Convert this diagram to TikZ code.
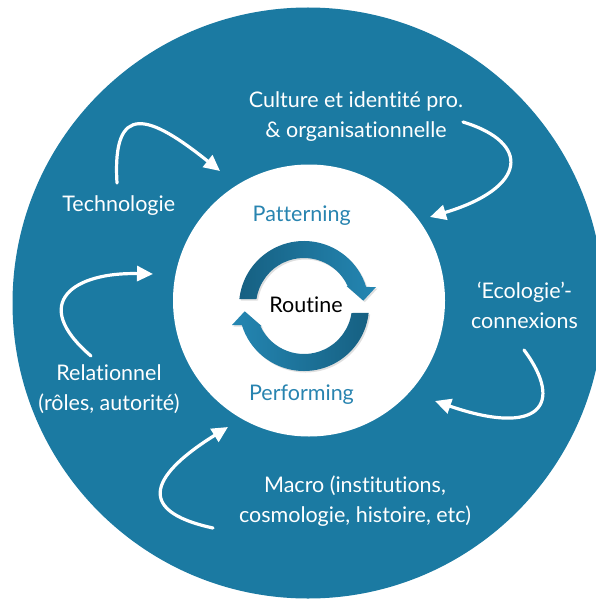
\documentclass[tikz,border=0pt]{standalone}
\usepackage{fontspec}
\setmainfont{Lato}[Ligatures={NoCommon,NoRare,NoContextual}]
\usetikzlibrary{arrows.meta,calc,shadows}
\definecolor{bigblue}{RGB}{27,122,162}
\definecolor{darkarc}{RGB}{22,96,130}
\definecolor{lightarc}{RGB}{36,134,178}
\definecolor{labelblue}{RGB}{40,132,176}
\begin{document}
\begin{tikzpicture}[x=1pt,y=1pt,
  lbl/.style={text=white, font=\fontsize{21.5}{29.5}\selectfont, align=center, inner sep=0pt, anchor=base},
  inlbl/.style={text=labelblue, font=\fontsize{21.5}{24}\selectfont, inner sep=0pt, anchor=base},
  curvy/.style={draw=white, line width=3.2pt, line cap=round, -{Triangle[length=16pt,width=15pt]}},
  cyc/.style={drop shadow={opacity=0.25, shadow xshift=1.5pt, shadow yshift=-1.5pt}}]
\useasboundingbox (0,0) rectangle (595,-599);
% discs
\fill[bigblue] (308,-303) circle[radius=295.5];
\fill[white] (309,-300.5) circle[radius=136];
% outer labels (anchor = baseline of last line)
\node[lbl] (culture) at (356,-137) {Culture et identité pro.\\\& organisationnelle};
\node[lbl] (techno) at (118.7,-211.7) {Technologie};
\node[lbl] (ecolo) at (524.5,-328) {‘Ecologie’-\\connexions};
\node[lbl] (relat) at (109,-410) {Relationnel\\(rôles, autorité)};
\node[lbl] (macro) at (355,-522) {Macro (institutions,\\cosmologie, histoire, etc)};
% inner labels
\node[inlbl] (pattern) at (301.7,-221) {Patterning};
\node[inlbl] (perform) at (301.5,-400) {Performing};
\node[inlbl, text=black] (routine) at (306,-312.7) {Routine};
% cycle arrows
\begin{scope}[shift={(304,-306)}]
\shade[cyc, left color=darkarc, right color=lightarc]
  (174:65) arc[start angle=174, end angle=17, radius=65] -- (72,19) -- (59.3,5.3) -- (42.5,20)
  -- (24.6:48) arc[start angle=24.6, end angle=171.6, radius=48] -- cycle;
\shade[cyc, left color=lightarc, right color=darkarc]
  (354:65) arc[start angle=354, end angle=197, radius=65] -- (-72,-19) -- (-59.3,-5.3) -- (-42.5,-20)
  -- (204.6:48) arc[start angle=204.6, end angle=351.6, radius=48] -- cycle;
\end{scope}
% curved connectors
\coordinate (a1s) at (117,-183); \coordinate (a1e) at (220,-171);
\coordinate (a2s) at (463,-122); \coordinate (a2e) at (430,-217);
\coordinate (a3s) at (524,-350); \coordinate (a3e) at (435,-401);
\coordinate (a4s) at (91,-356);  \coordinate (a4e) at (153,-274);
\coordinate (a5s) at (213,-528); \coordinate (a5e) at (228,-427);
\draw[curvy] (a1s) .. controls (112,-100) and (150,-115) .. (a1e);
\draw[curvy] (a2s) .. controls (532,-143) and (527,-188) .. (a2e);
\draw[curvy] (a3s) .. controls (565,-405) and (539,-437) .. (a3e);
\draw[curvy] (a4s) .. controls (28,-302) and (75,-272) .. (a4e);
\draw[curvy] (a5s) .. controls (130,-510) and (155.75,-472) .. (a5e);
\end{tikzpicture}
\end{document}
